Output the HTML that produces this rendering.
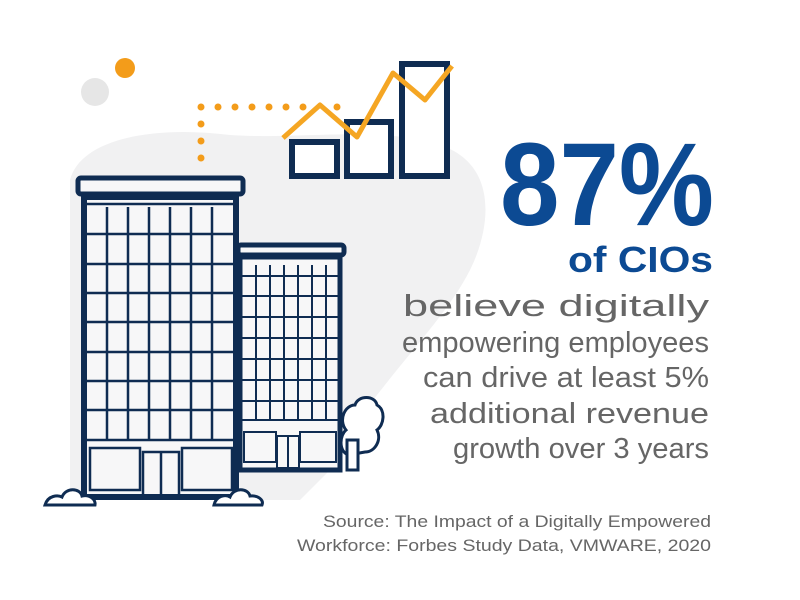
<!DOCTYPE html>
<html><head><meta charset="utf-8"><style>
html,body{margin:0;padding:0;background:#fff;}
svg{display:block;}
text{font-family:"Liberation Sans",sans-serif;}
</style></head><body>
<svg width="800" height="600" viewBox="0 0 800 600" xmlns="http://www.w3.org/2000/svg">
<path d="M70,180 C80,140 150,125 230,135 C300,140 380,125 440,145 C500,165 490,230 470,270 C440,330 360,400 330,470 L300,500 L70,500 Z" fill="#f1f1f2"/>
<circle cx="95" cy="92" r="14" fill="#e6e6e6"/>
<circle cx="125" cy="68" r="10" fill="#f39c1a"/>
<g fill="#f39c1a">
<circle cx="201" cy="107" r="3.5"/><circle cx="218" cy="107" r="3.5"/><circle cx="235" cy="107" r="3.5"/><circle cx="252" cy="107" r="3.5"/><circle cx="269" cy="107" r="3.5"/><circle cx="286" cy="107" r="3.5"/><circle cx="303" cy="107" r="3.5"/><circle cx="337" cy="107" r="3.5"/>
<circle cx="201" cy="124" r="3.5"/><circle cx="201" cy="141" r="3.5"/><circle cx="201" cy="158" r="3.5"/>
</g>
<g fill="#fff" stroke="#0f2c52" stroke-width="6">
<rect x="292" y="142" width="45" height="34"/>
<rect x="347" y="122" width="44" height="54"/>
<rect x="402" y="64" width="45" height="112"/>
</g>
<polyline points="283,138 320,105 357,137 393,73 425,100 452,66" fill="none" stroke="#f5a623" stroke-width="5" stroke-linejoin="round"/>
<g stroke="#0f2c52" fill="#f7f7f8">
<rect x="238" y="245" width="106" height="10" rx="3" stroke-width="5"/>
<rect x="240" y="257" width="100" height="213" stroke-width="5"/>
</g>
<g stroke="#0f2c52" stroke-width="2" fill="none">
<path d="M242,276H338M242,296H338M242,317H338M242,338H338M242,359H338M242,380H338M242,401H338M242,420H338"/>
<path d="M256,265V420M270,265V420M284,265V420M298,265V420M312,265V420M326,265V420"/>
<rect x="244" y="432" width="32" height="30"/><rect x="300" y="432" width="36" height="30"/>
<rect x="277" y="436" width="22" height="32"/><path d="M288,436V468"/>
</g>
<g stroke="#0f2c52" stroke-width="3" fill="#fff">
<path d="M348,455 C338,450 340,435 346,430 C338,420 345,405 355,405 C358,395 375,395 377,405 C386,410 384,425 377,430 C382,440 375,452 365,452 Z"/>
<rect x="347" y="440" width="11" height="30"/>
</g>
<g stroke="#0f2c52" fill="#f7f7f8">
<rect x="78" y="178" width="165" height="16" rx="3" stroke-width="5"/>
<rect x="84" y="197" width="152" height="300" stroke-width="6"/>
</g>
<g stroke="#0f2c52" stroke-width="2.5" fill="none">
<path d="M87,204H233M87,234H233M87,264H233M87,293H233M87,322H233M87,352H233M87,381H233M87,410H233M87,440H233"/>
<path d="M107,207V440M128,207V440M149,207V440M170,207V440M191,207V440M212,207V440"/>
<rect x="90" y="448" width="50" height="42"/><rect x="182" y="448" width="50" height="42"/>
<rect x="143" y="452" width="36" height="45"/><path d="M161,452V497"/>
</g>
<g stroke="#0f2c52" stroke-width="3" fill="#fff">
<path d="M45,505 C48,495 58,495 62,497 C66,487 80,488 82,496 C90,494 96,500 95,505 Z"/>
<path d="M214,505 C216,496 225,494 230,497 C234,487 248,488 250,496 C258,495 264,500 262,505 Z"/>
</g>
<text x="714" y="225" text-anchor="end" font-size="118" font-weight="bold" fill="#0c4a93" textLength="214" lengthAdjust="spacingAndGlyphs">87%</text>
<text x="713" y="272" text-anchor="end" font-size="36" font-weight="bold" fill="#0c4a93" textLength="145" lengthAdjust="spacingAndGlyphs">of CIOs</text>
<g fill="#666" font-size="29" text-anchor="end">
<text x="709" y="316" font-size="31" textLength="306" lengthAdjust="spacingAndGlyphs">believe digitally</text>
<text x="709" y="352" textLength="307" lengthAdjust="spacingAndGlyphs">empowering employees</text>
<text x="709" y="387" textLength="286" lengthAdjust="spacingAndGlyphs">can drive at least 5%</text>
<text x="709" y="423" textLength="279" lengthAdjust="spacingAndGlyphs">additional revenue</text>
<text x="709" y="458" textLength="256" lengthAdjust="spacingAndGlyphs">growth over 3 years</text>
</g>
<g fill="#666" font-size="16.5" text-anchor="end">
<text x="711" y="527" textLength="388" lengthAdjust="spacingAndGlyphs">Source: The Impact of a Digitally Empowered</text>
<text x="711" y="551" textLength="414" lengthAdjust="spacingAndGlyphs">Workforce: Forbes Study Data, VMWARE, 2020</text>
</g>
</svg>
</body></html>
